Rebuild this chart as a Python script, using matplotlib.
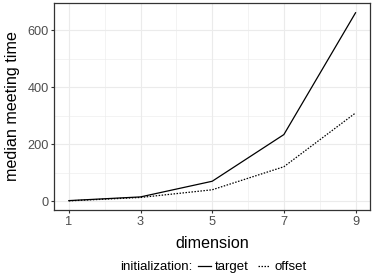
import numpy as np
import matplotlib.pyplot as plt
from matplotlib.lines import Line2D

plt.rcParams['font.family'] = ['Liberation Sans', 'DejaVu Sans']

# data
dimension = [1, 3, 5, 7, 9]
target = [2, 15, 70, 234, 662]
offset = [1, 13, 40, 121, 310]
series_names = ['target', 'offset']
x_ticks = [1, 3, 5, 7, 9]
y_ticks = [0, 200, 400, 600]

fig = plt.figure(figsize=(3.74, 2.8), dpi=100)
ax = fig.add_axes([0.1457, 0.25, 0.989 - 0.1457, 0.989 - 0.25])

ax.plot(dimension, target, color='black', lw=0.9, ls='-')
ax.plot(dimension, offset, color='black', lw=0.9, ls=(0, (1.2, 1.2)))

ax.set_xlim(0.6, 9.4)
ax.set_ylim(-31, 696)
ax.set_xticks(x_ticks)
ax.set_yticks(y_ticks)
ax.set_xticks([2, 4, 6, 8], minor=True)
ax.set_yticks([100, 300, 500], minor=True)

# ggplot theme_bw look
ax.grid(True, which='major', color='#EBEBEB', lw=0.8)
ax.grid(True, which='minor', color='#EBEBEB', lw=0.4)
ax.set_axisbelow(True)
for s in ax.spines.values():
    s.set_color('#333333')
    s.set_linewidth(0.9)
ax.tick_params(which='major', color='#333333', length=2.5, width=0.8,
               labelsize=9.2, labelcolor='#4D4D4D', pad=1.8)
ax.tick_params(which='minor', length=0)

ax.set_xlabel('dimension', fontsize=11.6, labelpad=6)
ax.set_ylabel('median meeting time', fontsize=11.6, labelpad=5)

fig.text(120 / 374, 1 - 267 / 280, 'initialization:', fontsize=9.5,
         ha='left', va='center')
handles = [Line2D([], [], color='black', lw=0.9, ls='-'),
           Line2D([], [], color='black', lw=0.9, ls=(0, (1.2, 1.2)))]
fig.legend(handles, series_names, loc='center left',
           bbox_to_anchor=(198 / 374, 1 - 267 / 280),
           ncol=2, frameon=False, fontsize=9.5, handlelength=0.95,
           handletextpad=0.35, columnspacing=0.65, borderpad=0,
           borderaxespad=0)

fig.savefig('out.png', dpi=100)
